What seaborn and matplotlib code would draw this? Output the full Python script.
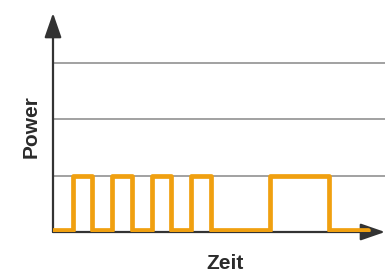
import matplotlib
matplotlib.use("Agg")
import matplotlib.pyplot as plt
import pandas as pd
import seaborn as sns

# switching times (slots) and power level after each switch
zeit  = [0, 1, 2, 3, 4, 5, 6, 7, 8, 11, 14, 16]
power = [0.03, 1, 0.03, 1, 0.03, 1, 0.03, 1, 0.03, 1, 0.03, 0.03]
grid_levels = [1, 2, 3]

x_label = "Zeit"
y_label = "Power"

ORANGE = "#F0A010"
AXIS   = "#333333"
GRID   = "#9a9a9a"
TEXT   = "#2b2b2b"
FONT   = ["Liberation Sans", "DejaVu Sans"]

sns.set_style("white")
df = pd.DataFrame({"zeit": zeit, "power": power})

W, H = 385, 274
fig = plt.figure(figsize=(W / 100, H / 100), dpi=100)
ax = fig.add_axes([53 / W, (H - 232) / H, 1 - 53 / W, (232 - 13) / H])

for lvl in grid_levels:
    ax.axhline(lvl, color=GRID, lw=1.3, zorder=1)

sns.lineplot(
    data=df, x="zeit", y="power", ax=ax,
    drawstyle="steps-post", color=ORANGE, lw=3.4,
    estimator=None, sort=False, zorder=3,
)

ax.set_xlim(0, 16.85)
ax.set_ylim(0, 3.89)
ax.set_xticks([])
ax.set_yticks([])
ax.set_xlabel("")
ax.set_ylabel("")
for s in ax.spines.values():
    s.set_visible(False)

# axis arrows
arrow = dict(arrowstyle="-|>,head_length=0.75,head_width=0.26",
             color=AXIS, lw=1.6, mutation_scale=20, shrinkA=0, shrinkB=0)
ax.annotate("", xy=(0, 1), xytext=(0, 0), xycoords="axes fraction",
            arrowprops=arrow, annotation_clip=False, zorder=2)
ax.annotate("", xy=(1, 0), xytext=(0, 0), xycoords="axes fraction",
            arrowprops=arrow, annotation_clip=False, zorder=2)

fig.text(225 / W, 5 / H, x_label, ha="center", va="baseline",
         fontsize=15, fontweight="bold", color=TEXT, family=FONT)
fig.text(37 / W, (H - 127) / H, y_label, ha="center", va="baseline",
         rotation=90, rotation_mode="anchor",
         fontsize=15, fontweight="bold", color=TEXT, family=FONT)

fig.savefig("out.png", dpi=100, facecolor="white")
